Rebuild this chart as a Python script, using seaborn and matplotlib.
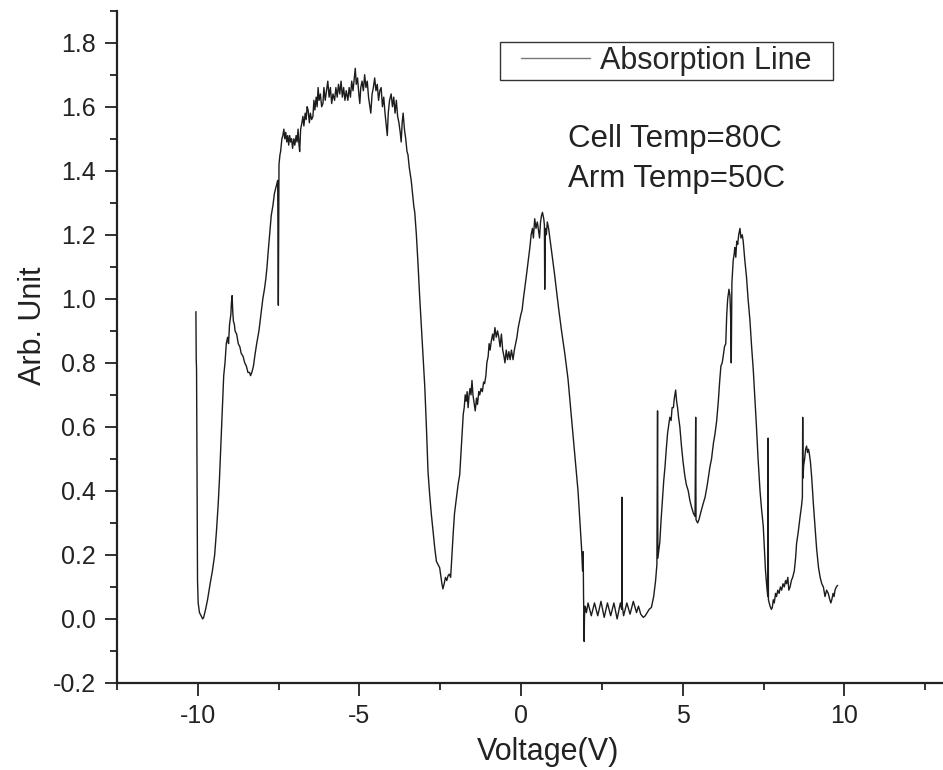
import numpy as np
import pandas as pd
import matplotlib
matplotlib.use("Agg")
import matplotlib.pyplot as plt
from matplotlib.ticker import MultipleLocator
from matplotlib.patches import Rectangle
import seaborn as sns

# voltage sweep (V)
voltage = [
    -10.06, -10.05, -10.04, -10.03, -10.02, -10.01, -9.99, -9.95, -9.90, -9.85,
    -9.82, -9.76, -9.70, -9.62, -9.55, -9.48, -9.42, -9.37, -9.33, -9.28,
    -9.24, -9.20, -9.16, -9.12, -9.08, -9.05, -9.02, -8.98, -8.96, -8.94,
    -8.92, -8.90, -8.87, -8.85, -8.80, -8.75, -8.70, -8.66, -8.60, -8.55,
    -8.50, -8.45, -8.40, -8.37, -8.33, -8.28, -8.24, -8.18, -8.11, -8.05,
    -7.99, -7.94, -7.90, -7.86, -7.83, -7.78, -7.73, -7.68, -7.63, -7.58,
    -7.53, -7.51, -7.49, -7.46, -7.44, -7.40, -7.37,
    -7.34, -7.31, -7.28, -7.25, -7.22, -7.19, -7.16, -7.13, -7.10, -7.07,
    -7.03, -7.00, -6.96, -6.93, -6.90, -6.87, -6.85, -6.82, -6.78, -6.75,
    -6.72, -6.68, -6.65, -6.62, -6.59, -6.55, -6.52, -6.48, -6.44, -6.41,
    -6.38, -6.34, -6.31, -6.28, -6.25, -6.21, -6.17, -6.13, -6.10, -6.06,
    -6.02, -5.98, -5.94, -5.90, -5.86, -5.82, -5.77, -5.73, -5.69, -5.65,
    -5.61, -5.57, -5.53, -5.49, -5.45, -5.41, -5.36, -5.32, -5.28, -5.24,
    -5.20, -5.16, -5.13, -5.10, -5.06, -5.02, -4.99, -4.96, -4.92, -4.88,
    -4.84, -4.80, -4.76, -4.72, -4.68, -4.65, -4.61, -4.57, -4.53, -4.49,
    -4.45, -4.41, -4.37, -4.33, -4.29, -4.25, -4.21, -4.17, -4.14, -4.11,
    -4.07, -4.02, -3.98, -3.94, -3.90, -3.86, -3.82, -3.78, -3.74, -3.71,
    -3.68, -3.65, -3.61, -3.57, -3.53, -3.50, -3.46, -3.43, -3.40, -3.36,
    -3.32, -3.29, -3.24, -3.19, -3.14, -3.06, -2.98, -2.93, -2.88, -2.83,
    -2.78, -2.72, -2.67, -2.62, -2.57, -2.52, -2.48, -2.45, -2.42, -2.38,
    -2.34, -2.30, -2.26, -2.22, -2.18, -2.14, -2.10, -2.06, -2.00, -1.95,
    -1.90, -1.86, -1.82, -1.79, -1.76, -1.73, -1.70, -1.67, -1.64, -1.61,
    -1.58, -1.55, -1.52, -1.49, -1.45, -1.42, -1.38, -1.35, -1.31, -1.28,
    -1.24, -1.20, -1.16, -1.13, -1.09, -1.06, -1.02, -0.99, -0.96, -0.92,
    -0.88, -0.85, -0.81, -0.77, -0.73, -0.69, -0.65, -0.61, -0.57, -0.53,
    -0.50, -0.46, -0.42, -0.38, -0.34, -0.30, -0.25, -0.21, -0.17, -0.13,
    -0.09, -0.05, -0.01, 0.03, 0.07, 0.11, 0.16, 0.21, 0.27, 0.31,
    0.35, 0.38, 0.42, 0.46, 0.50, 0.53, 0.57, 0.60, 0.63, 0.66,
    0.70, 0.72, 0.73, 0.75, 0.78, 0.81, 0.85, 0.90, 0.94, 0.98,
    1.03, 1.09, 1.16, 1.25, 1.35, 1.45, 1.53, 1.61, 1.68, 1.76,
    1.82, 1.87, 1.90, 1.92, 1.93, 1.94, 1.95, 1.96, 1.98, 2.02,
    2.07, 2.17, 2.27, 2.37, 2.47, 2.57, 2.67, 2.77, 2.87, 2.97,
    3.07, 3.11, 3.12, 3.13, 3.17, 3.27, 3.37, 3.47, 3.57, 3.63,
    3.70, 3.78, 3.84, 3.90, 3.96, 4.03, 4.10, 4.16, 4.20, 4.22,
    4.23, 4.29, 4.33, 4.37, 4.41, 4.45, 4.49, 4.53, 4.57, 4.60,
    4.64, 4.67, 4.71, 4.74, 4.78, 4.81, 4.84, 4.87, 4.91, 4.96,
    5.01, 5.06, 5.11, 5.17, 5.22, 5.27, 5.33, 5.38, 5.40, 5.41,
    5.46, 5.50, 5.55, 5.63, 5.69, 5.76, 5.84, 5.89, 5.95, 6.00,
    6.05, 6.10, 6.14, 6.18, 6.22, 6.25, 6.29, 6.33, 6.36, 6.39,
    6.43, 6.46, 6.48, 6.50, 6.52, 6.56, 6.59, 6.61, 6.64, 6.67,
    6.70, 6.73, 6.77, 6.80, 6.84, 6.87, 6.92, 6.97, 7.02, 7.08,
    7.13, 7.18, 7.23, 7.28, 7.33, 7.39, 7.44, 7.49, 7.53, 7.56,
    7.60, 7.63, 7.64, 7.65, 7.70, 7.74, 7.77, 7.80, 7.83, 7.87,
    7.90, 7.94, 7.98, 8.02, 8.06, 8.10, 8.14, 8.18, 8.21, 8.25,
    8.28, 8.32, 8.36, 8.40, 8.45, 8.49, 8.52, 8.57, 8.63, 8.67,
    8.70, 8.71, 8.72, 8.74, 8.77, 8.80, 8.83, 8.86, 8.89, 8.91,
    8.95, 8.99, 9.04, 9.09, 9.14, 9.20, 9.25, 9.30, 9.35, 9.40,
    9.45, 9.50, 9.55, 9.58, 9.61, 9.65, 9.68, 9.71, 9.75, 9.79,
]

# absorption signal (arb. unit)
signal = [
    0.96, 0.81, 0.78, 0.55, 0.30, 0.12, 0.05, 0.02, 0.01, 0.00,
    0.005, 0.03, 0.06, 0.11, 0.15, 0.20, 0.28, 0.36, 0.44, 0.56,
    0.66, 0.76, 0.80, 0.86, 0.88, 0.86, 0.92, 0.95, 0.99, 1.01,
    0.96, 0.93, 0.92, 0.90, 0.89, 0.86, 0.85, 0.83, 0.82, 0.80,
    0.79, 0.77, 0.77, 0.76, 0.77, 0.79, 0.82, 0.86, 0.90, 0.95,
    1.00, 1.03, 1.06, 1.10, 1.14, 1.20, 1.26, 1.29, 1.33, 1.35,
    1.37, 0.98, 1.42, 1.45, 1.46, 1.50, 1.51,
    1.53, 1.50, 1.52, 1.49, 1.51, 1.48, 1.51, 1.49, 1.50, 1.47,
    1.50, 1.48, 1.51, 1.49, 1.53, 1.48, 1.46, 1.53, 1.55, 1.57,
    1.54, 1.58, 1.56, 1.60, 1.59, 1.55, 1.58, 1.56, 1.57, 1.62,
    1.59, 1.63, 1.60, 1.66, 1.62, 1.64, 1.60, 1.61, 1.66, 1.62,
    1.65, 1.68, 1.63, 1.66, 1.61, 1.64, 1.62, 1.66, 1.63, 1.67,
    1.64, 1.68, 1.63, 1.66, 1.62, 1.65, 1.62, 1.66, 1.63, 1.68,
    1.65, 1.69, 1.72, 1.67, 1.69, 1.64, 1.61, 1.66, 1.68, 1.65,
    1.70, 1.66, 1.68, 1.63, 1.60, 1.58, 1.64, 1.66, 1.69, 1.65,
    1.67, 1.62, 1.65, 1.66, 1.60, 1.63, 1.58, 1.54, 1.51, 1.58,
    1.62, 1.64, 1.60, 1.63, 1.58, 1.62, 1.57, 1.55, 1.52, 1.49,
    1.55, 1.58, 1.53, 1.50, 1.46, 1.45, 1.41, 1.39, 1.37, 1.33,
    1.29, 1.27, 1.20, 1.11, 1.01, 0.87, 0.725, 0.60, 0.46, 0.39,
    0.33, 0.27, 0.22, 0.18, 0.17, 0.16, 0.13, 0.11, 0.094, 0.11,
    0.13, 0.12, 0.135, 0.14, 0.13, 0.20, 0.27, 0.33, 0.38, 0.42,
    0.45, 0.52, 0.59, 0.64, 0.66, 0.70, 0.68, 0.71, 0.66, 0.70,
    0.72, 0.70, 0.745, 0.70, 0.67, 0.65, 0.69, 0.67, 0.71, 0.70,
    0.72, 0.71, 0.74, 0.735, 0.76, 0.80, 0.82, 0.86, 0.84, 0.87,
    0.89, 0.87, 0.91, 0.88, 0.90, 0.88, 0.85, 0.89, 0.84, 0.82,
    0.80, 0.84, 0.81, 0.835, 0.81, 0.84, 0.81, 0.84, 0.86, 0.88,
    0.91, 0.93, 0.95, 0.965, 1.00, 1.03, 1.07, 1.11, 1.16, 1.20,
    1.22, 1.19, 1.25, 1.22, 1.24, 1.22, 1.19, 1.24, 1.26, 1.27,
    1.25, 1.23, 1.03, 1.22, 1.20, 1.24, 1.22, 1.18, 1.15, 1.12,
    1.08, 1.03, 0.97, 0.90, 0.83, 0.75, 0.66, 0.57, 0.49, 0.40,
    0.30, 0.22, 0.15, 0.21, 0.08, 0.01, -0.07, 0.01, 0.04, 0.02,
    0.05, 0.01, 0.05, 0.01, 0.055, 0.005, 0.05, 0.01, 0.05, 0.00,
    0.05, 0.03, 0.38, 0.04, 0.01, 0.05, 0.015, 0.055, 0.02, 0.04,
    0.015, 0.005, 0.01, 0.02, 0.03, 0.036, 0.07, 0.12, 0.17, 0.65,
    0.19, 0.24, 0.31, 0.37, 0.43, 0.475, 0.53, 0.58, 0.61, 0.63,
    0.62, 0.66, 0.66, 0.69, 0.715, 0.68, 0.66, 0.63, 0.60, 0.54,
    0.49, 0.45, 0.42, 0.40, 0.37, 0.35, 0.33, 0.32, 0.63, 0.31,
    0.30, 0.31, 0.33, 0.36, 0.38, 0.42, 0.475, 0.50, 0.55, 0.58,
    0.62, 0.68, 0.74, 0.79, 0.80, 0.82, 0.85, 0.86, 0.95, 1.00,
    1.03, 1.01, 0.95, 0.80, 1.05, 1.12, 1.14, 1.16, 1.13, 1.18,
    1.17, 1.20, 1.22, 1.19, 1.20, 1.18, 1.12, 1.07, 1.00, 0.93,
    0.85, 0.78, 0.69, 0.60, 0.50, 0.40, 0.34, 0.29, 0.21, 0.15,
    0.10, 0.07, 0.565, 0.06, 0.04, 0.03, 0.036, 0.06, 0.05, 0.08,
    0.07, 0.09, 0.08, 0.10, 0.09, 0.11, 0.10, 0.12, 0.11, 0.13,
    0.09, 0.10, 0.12, 0.13, 0.15, 0.19, 0.235, 0.27, 0.32, 0.35,
    0.38, 0.63, 0.44, 0.48, 0.50, 0.53, 0.54, 0.52, 0.53, 0.52,
    0.49, 0.44, 0.36, 0.29, 0.22, 0.16, 0.13, 0.11, 0.10, 0.07,
    0.09, 0.08, 0.06, 0.05, 0.06, 0.08, 0.07, 0.09, 0.10, 0.105,
]

df = pd.DataFrame({"Voltage(V)": voltage, "Arb. Unit": signal})

sns.set_style("ticks")
plt.rcParams["font.family"] = ["Liberation Sans", "DejaVu Sans"]
plt.rcParams["axes.unicode_minus"] = False

fig = plt.figure(figsize=(9.43, 7.70), dpi=100)
ax = fig.add_axes([0.1241, 0.1130, 0.8759, 0.8731])

sns.lineplot(data=df, x="Voltage(V)", y="Arb. Unit", sort=False, estimator=None,
             color="#1c1c1c", linewidth=1.0, label="Absorption Line", ax=ax)

ax.set_xlim(-12.5, 13.05)
ax.set_ylim(-0.2, 1.9)
ax.xaxis.set_major_locator(MultipleLocator(5))
ax.xaxis.set_minor_locator(MultipleLocator(2.5))
ax.yaxis.set_major_locator(MultipleLocator(0.2))
ax.yaxis.set_minor_locator(MultipleLocator(0.1))
ax.set_yticklabels([f"{v:.1f}" for v in ax.get_yticks()])

for side in ["top", "right"]:
    ax.spines[side].set_visible(False)
for side in ["left", "bottom"]:
    ax.spines[side].set_linewidth(1.6)
    ax.spines[side].set_color("#222222")

ax.tick_params(which="major", direction="out", length=9, width=1.3,
               labelsize=18, pad=6, colors="#222222")
ax.tick_params(which="minor", direction="out", length=5, width=1.3, colors="#222222")

ax.set_xlabel("Voltage(V)", fontsize=22, color="#222222")
ax.set_ylabel("Arb. Unit", fontsize=22, color="#222222")
ax.xaxis.set_label_coords(0.522, -0.080)
ax.yaxis.set_label_coords(-0.084, 0.532)

# legend text and sample line, with a separate square frame around them
leg = ax.legend(loc="center left", bbox_to_anchor=(0.489, 0.925), fontsize=22,
                frameon=False, borderaxespad=0, borderpad=0,
                handlelength=2.25, handletextpad=0.33)
leg.get_lines()[0].set_color("#777777")
leg.get_lines()[0].set_linewidth(1.0)
ax.add_patch(Rectangle((0.4637, 0.8969), 0.4031, 0.0570, transform=ax.transAxes,
                       fill=False, edgecolor="#333333", linewidth=1.0, zorder=5))

ax.text(0.546, 0.809, "Cell Temp=80C", transform=ax.transAxes, fontsize=22.5,
        va="center", ha="left", color="#222222")
ax.text(0.546, 0.750, "Arm Temp=50C", transform=ax.transAxes, fontsize=22.5,
        va="center", ha="left", color="#222222")

fig.savefig("out.png", dpi=100)
